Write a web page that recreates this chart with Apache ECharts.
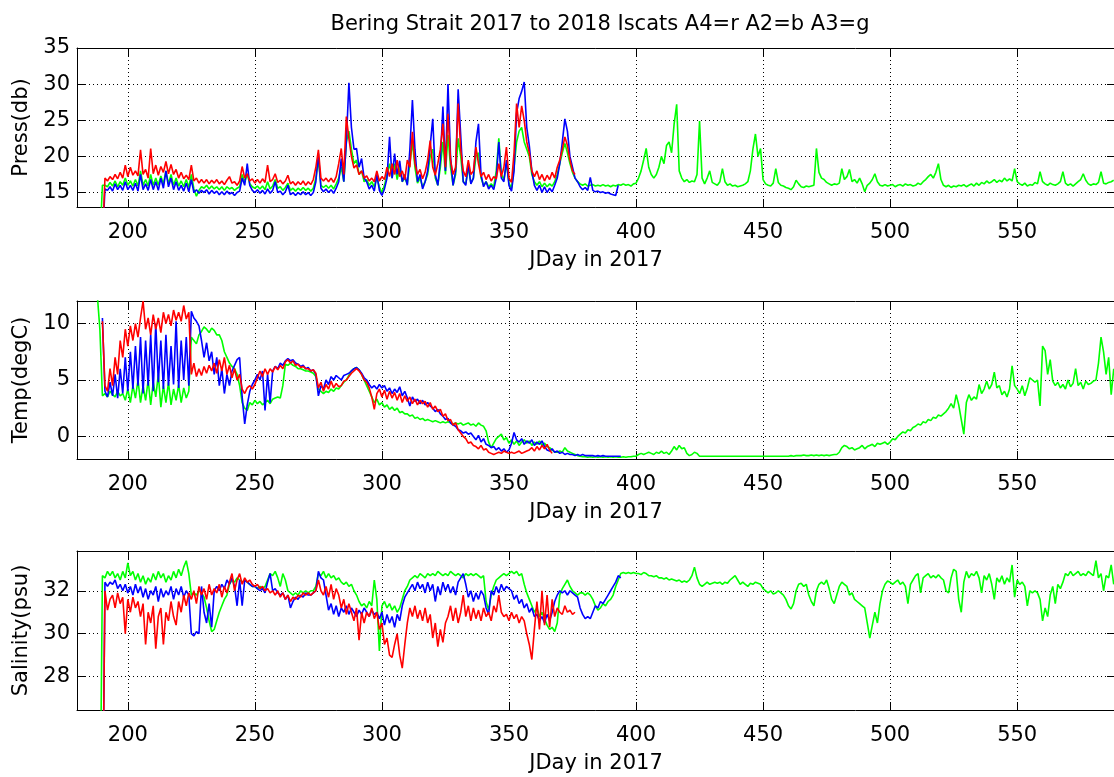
<!DOCTYPE html>
<html><head><meta charset="utf-8">
<script src="https://cdn.jsdelivr.net/npm/echarts@6/dist/echarts.min.js"></script>
<style>html,body{margin:0;padding:0;background:#fff}#c{width:1114px;height:777px}</style>
</head><body><div id="c"></div>
<script>
// ---------------- DATA (one value per day; first day given by *Start) ----------------
const titleText = 'Bering Strait 2017 to 2018 Iscats A4=r A2=b A3=g';
const xName = 'JDay in 2017';
const xTicks = [200, 250, 300, 350, 400, 450, 500, 550];
const pressTicks = [15, 20, 25, 30, 35];
const tempTicks = [0, 5, 10];
const salTicks = [28, 30, 32];

// Pressure (db)
const pressA4Start = 190; // red
const pressA4 = [
 8,17.0,16.6,17.2,16.8,17.5,16.9,17.8,17.0,18.8,
 17.2,18.5,17.4,18.0,17.3,20.9,17.5,18.2,17.0,21.1,
 17.6,18.8,17.4,18.6,17.8,19.3,17.6,18.9,17.5,18.2,
 17.0,17.8,16.9,17.4,16.8,18.8,16.6,17.0,16.3,16.8,
 16.3,16.8,16.2,16.7,16.3,16.8,16.2,16.6,16.1,16.7,
 17.2,16.3,16.5,16.0,16.6,18.6,17.0,17.6,16.6,16.9,
 16.3,16.8,16.3,16.9,16.4,18.8,16.5,16.8,17.6,16.4,
 16.7,16.2,16.6,17.4,16.2,16.5,16.0,16.5,16.1,16.6,
 16.0,16.5,16.1,16.8,18.5,20.9,17.0,16.6,17.0,16.5,
 17.0,16.4,17.2,19.0,21.1,17.5,25.5,22.5,20.0,18.4,
 18.8,17.5,18.0,17.0,17.3,16.6,17.0,16.5,18.0,16.6,
 17.2,16.8,18.5,17.2,19.0,17.5,19.5,17.2,18.0,16.8,
 19.5,18.5,23.4,19.0,17.5,18.2,16.9,17.8,19.5,22.2,
 18.5,17.4,19.0,21.0,24.5,18.5,25.9,19.5,17.5,18.5,
 27.3,21.0,18.0,17.2,19.5,17.5,18.0,21.3,19.0,17.2,
 17.8,16.8,17.5,16.6,17.2,16.9,19.0,17.2,18.5,21.3,
 17.0,16.4,20.5,27.3,24.0,27.0,25.0,22.0,20.5,18.0,
 17.2,18.0,16.8,17.5,16.6,17.4,16.8,17.8,17.0,18.5,
 19.5,21.0,22.7,21.5,19.5,18.0,17.5
];
const pressA2Start = 190; // blue
const pressA2 = [
 8,15.5,15.3,15.8,15.2,16.2,15.4,16.0,15.3,16.5,
 15.4,16.0,15.3,16.3,15.2,17.5,15.4,16.2,15.3,16.8,
 15.4,16.5,15.3,17.0,15.6,18.0,15.8,17.0,15.4,16.5,
 15.3,16.0,15.2,16.3,15.1,16.8,15.0,15.4,14.9,15.3,
 15.0,15.4,14.8,15.3,14.9,15.2,14.7,15.1,14.7,15.2,
 14.8,15.0,14.6,15.0,15.2,17.0,16.0,19.0,16.0,15.3,
 15.0,15.4,14.9,15.3,14.8,15.5,14.9,15.3,16.5,15.0,
 15.2,14.7,15.1,16.0,14.7,15.0,14.6,15.0,14.7,15.1,
 14.7,15.0,14.6,15.0,16.5,20.4,15.6,15.1,15.5,15.0,
 15.4,14.9,15.6,16.5,19.7,16.5,22.0,30.2,24.0,21.0,
 21.1,18.5,19.7,17.0,16.5,15.5,16.0,15.2,17.5,15.3,
 14.6,15.5,17.0,22.7,17.0,20.4,17.5,19.4,16.5,17.5,
 16.0,21.0,27.8,21.0,16.5,17.5,15.5,16.5,18.0,21.5,
 25.2,17.5,16.0,19.5,26.9,18.0,30.0,20.0,16.0,18.0,
 29.3,23.0,16.5,16.0,19.0,16.2,17.0,22.0,24.5,17.5,
 15.8,16.5,15.5,16.0,15.4,17.0,22.0,17.0,16.5,19.5,
 16.0,15.2,18.0,26.0,28.0,29.0,30.3,24.0,21.5,18.0,
 16.0,15.3,16.0,15.0,15.8,15.0,15.6,15.1,16.0,17.0,
 19.0,22.0,25.2,23.5,20.0,18.5,17.0,16.5,15.8,15.4,
 15.7,15.3,17.1,15.3,15.1,15.2,15.0,15.1,14.9,15.0,
 14.8,14.7,14.6,16.0
];
const pressA3Start = 189; // green
const pressA3 = [
 8,
 16.0,16.0,15.8,16.4,15.9,16.6,15.8,16.5,16.0,17.0,
 16.0,16.6,15.9,16.8,15.9,18.0,16.0,16.8,15.9,17.5,
 16.0,17.0,16.0,17.3,16.2,18.0,16.2,17.5,16.0,17.0,
 15.9,16.6,15.8,16.8,15.7,17.5,15.5,14.5,15.3,15.8,
 15.6,16.0,15.5,15.9,15.5,15.8,15.4,15.8,15.3,15.8,
 15.5,15.7,15.3,15.6,15.8,17.5,16.5,17.5,16.2,15.8,
 15.6,15.9,15.5,15.9,15.4,16.5,15.5,15.9,16.8,15.6,
 15.8,15.3,15.7,16.3,15.3,15.6,15.2,15.6,15.3,15.7,
 15.3,15.6,15.2,15.6,17.0,19.5,16.0,15.7,16.0,15.6,
 16.0,15.5,16.2,17.0,18.5,16.5,22.0,23.5,21.0,19.0,
 19.5,17.5,18.0,16.5,16.8,16.0,16.5,15.8,17.0,15.8,
 15.0,16.0,17.5,19.0,17.0,19.0,16.8,18.5,16.5,17.0,
 16.2,19.0,22.0,18.5,16.3,17.0,15.8,16.5,17.5,20.0,
 21.0,17.0,16.0,18.5,22.0,17.5,23.0,18.5,16.0,17.5,
 22.5,20.0,16.5,16.2,18.5,16.3,17.0,20.0,20.5,17.0,
 16.0,16.5,15.8,16.2,15.8,18.0,22.5,17.5,16.8,19.0,
 16.3,15.6,18.5,22.0,23.5,24.0,22.0,21.0,20.0,17.5,
 16.5,16.0,16.5,15.8,16.3,15.8,16.2,15.9,16.5,17.5,
 19.0,20.5,21.8,20.5,19.0,17.8,17.0,16.5,16.2,16.0,
 16.2,15.9,16.0,16.1,15.9,16.0,15.9,16.1,15.9,16.0,
 15.8,16.0,15.9,16.1,16.0,16.2,16.0,16.1,15.9,16.2,
 16.3,17.0,18.0,19.5,21.1,18.5,17.5,17.0,17.5,18.5,
 20.0,19.0,21.5,22.0,20.5,24.5,27.2,18.0,17.0,16.5,
 16.8,16.4,16.6,16.5,17.5,24.9,17.0,16.2,17.0,18.0,
 16.4,16.2,16.0,16.5,18.3,16.5,16.0,16.2,15.9,16.0,
 15.8,15.9,16.0,16.2,16.5,18.0,21.0,23.1,20.0,21.1,
 16.8,16.2,16.0,15.9,16.3,18.3,16.4,16.0,15.9,15.7,
 15.6,15.4,15.8,16.7,16.2,15.8,15.7,15.9,15.8,15.9,
 16.0,21.1,17.8,17.0,16.8,16.4,16.2,16.0,16.2,16.1,
 16.3,18.3,16.8,17.2,18.2,16.5,16.8,16.3,17.0,16.2,
 15.1,16.0,16.3,16.8,17.6,16.5,16.0,15.9,16.1,15.9,
 16.0,16.1,15.8,16.0,16.1,15.9,16.2,16.0,16.1,15.9,
 16.0,16.3,16.1,16.5,16.8,17.2,17.5,17.0,17.8,19.0,
 16.8,16.0,15.8,16.0,15.7,15.9,15.8,16.0,15.9,16.1,
 15.8,16.0,16.2,15.9,16.3,16.0,16.4,16.2,16.6,16.3,
 16.5,16.8,16.4,16.7,16.5,17.0,16.6,16.9,16.6,18.3,
 16.5,16.2,16.0,16.3,15.9,16.1,16.0,16.4,16.2,17.9,
 16.5,16.2,16.0,16.3,16.1,16.0,16.2,16.5,17.9,16.3,
 16.0,16.2,15.9,16.2,16.5,16.8,17.6,16.7,16.2,16.0,
 16.2,16.1,16.4,17.9,16.3,16.2,16.4,16.5,16.7
];

// Temperature (degC)
const tempA4Start = 190; // red
const tempA4 = [
 10.2,4.5,4.0,6.0,4.5,7.0,5.5,8.5,7.0,9.5,
 8.0,9.8,8.5,10.0,8.8,10.5,12.0,9.5,10.5,9.0,
 10.8,9.5,10.5,9.2,11.0,10.0,10.8,9.8,11.2,10.3,
 11.0,10.2,11.6,10.4,11.0,5.5,6.5,5.3,6.0,5.4,
 6.2,5.6,6.3,5.8,6.5,5.6,6.8,5.8,7.0,5.5,
 6.3,5.2,6.0,5.0,5.5,4.2,3.8,4.3,4.5,4.2,
 4.6,5.2,5.8,5.3,6.0,5.5,6.0,5.7,6.2,5.9,
 6.3,6.0,6.6,6.8,6.5,6.7,6.3,6.4,6.1,6.2,
 6.0,6.0,5.8,5.9,5.6,4.3,4.8,4.0,4.6,4.2,
 4.9,4.3,4.7,4.4,4.5,4.9,5.0,5.3,5.6,5.8,
 6.0,5.8,5.5,5.0,4.8,4.3,3.5,2.4,3.8,4.2,
 3.5,4.1,3.3,4.0,3.4,3.9,3.2,3.8,3.0,3.6,
 3.1,3.5,2.9,3.3,2.8,3.2,2.9,3.1,2.6,3.0,
 2.4,2.7,2.2,2.4,1.8,2.0,1.4,1.5,1.0,1.2,
 0.6,0.3,0.0,-0.2,-0.6,-0.5,-0.8,-0.9,-1.1,-0.8,
 -1.2,-1.1,-1.4,-1.5,-1.6,-1.5,-1.4,-1.5,-1.3,-1.4,
 -1.5,-1.4,-1.5,-1.4,-1.3,-1.5,-1.4,-1.3,-1.2,-1.0,
 -1.3,-0.9,-1.2,-0.8,-1.1,-0.7,-1.2,-1.5
];
const tempA2Start = 190; // blue
const tempA2 = [
 10.5,4.0,3.5,4.8,3.6,5.5,3.4,6.0,3.8,7.0,
 4.0,7.5,4.2,8.0,4.5,8.8,3.8,8.5,4.5,9.0,
 4.0,10.0,4.8,8.5,4.2,9.0,4.5,8.0,4.6,10.2,
 4.3,8.5,5.0,8.8,4.5,11.1,10.5,10.2,9.8,8.5,
 7.0,8.3,6.7,7.5,5.5,7.0,4.5,6.0,3.8,5.5,
 4.5,5.8,6.3,6.8,7.0,3.5,1.1,2.8,4.0,4.6,
 5.0,5.5,5.0,5.8,2.3,5.5,3.0,5.8,6.2,6.0,
 6.5,6.3,6.7,6.9,6.7,6.8,6.5,6.4,6.2,6.3,
 6.0,6.1,5.8,5.9,5.5,3.6,4.5,4.2,5.0,4.6,
 5.3,5.0,5.4,5.2,5.0,5.4,5.5,5.6,5.8,6.0,
 6.1,5.9,5.6,5.2,5.0,4.6,4.3,4.5,4.2,4.6,
 4.3,4.5,4.0,4.3,3.8,4.2,3.9,4.4,3.6,4.0,
 3.4,2.7,3.5,3.1,3.3,2.9,3.2,2.8,3.0,2.7,
 2.5,2.2,2.4,2.0,1.8,1.5,1.6,1.2,1.0,0.9,
 0.6,0.5,0.3,0.4,0.2,0.3,0.0,-0.3,0.1,-0.5,
 -0.2,-0.7,-0.8,-1.0,-0.9,-1.2,-1.0,-1.3,-1.1,-1.4,
 -1.2,-0.6,0.35,-0.3,-0.5,-0.2,-0.7,-0.4,-0.6,-0.3,
 -0.8,-0.5,-0.7,-0.4,-0.9,-1.2,-1.3,-1.1,-1.4,-1.3,
 -1.5,-1.4,-1.6,-1.5,-1.6,-1.6,-1.7,-1.6,-1.7,-1.6,
 -1.7,-1.7,-1.7,-1.7,-1.75,-1.7,-1.75,-1.7,-1.75,-1.75,
 -1.75,-1.75,-1.75,-1.75,-1.75
];
const tempA3Start = 188; // green
const tempA3 = [
 12.5,9.5,
 3.6,3.8,3.5,4.0,3.7,3.5,4.0,3.6,3.8,3.2,
 4.2,3.0,4.5,3.4,5.0,3.0,4.5,3.2,5.0,2.8,
 4.8,3.5,5.5,2.6,4.5,3.0,4.8,2.8,4.2,3.2,
 4.6,3.0,4.3,3.4,4.0,8.8,8.5,8.2,9.0,9.3,
 9.7,9.5,9.2,9.6,9.4,9.0,9.0,8.5,7.5,7.0,
 6.5,6.2,6.0,5.5,4.5,3.0,2.5,2.3,3.0,2.8,
 3.2,2.9,3.1,2.8,3.0,3.2,2.9,3.3,3.4,3.5,
 3.4,4.5,6.4,6.3,6.5,6.3,6.2,6.0,6.0,5.9,
 5.8,5.8,5.7,5.6,5.3,4.2,4.0,3.8,4.0,3.9,
 4.2,4.0,4.3,4.2,4.5,4.8,5.0,5.4,5.8,6.0,
 6.1,5.9,5.5,5.0,4.5,4.0,3.5,3.0,3.3,2.8,
 3.0,2.6,2.8,2.4,2.6,2.3,2.5,2.1,2.2,2.0,
 2.0,1.8,1.9,1.6,1.7,1.5,1.6,1.4,1.5,1.4,
 1.3,1.4,1.3,1.2,1.3,1.2,1.3,1.2,1.1,1.2,
 1.1,1.2,1.0,1.1,1.2,1.0,1.1,0.9,1.2,1.0,
 0.9,0.5,-0.5,-1.0,-0.6,-0.2,0.0,0.2,-0.3,-0.1,
 -0.6,-0.3,-0.7,-0.4,-0.8,-0.5,-0.3,-0.6,-0.4,-0.8,
 -0.5,-0.7,-0.4,-0.8,-0.6,-0.9,-1.0,-1.2,-1.4,-1.4,
 -1.3,-1.4,-1.0,-1.3,-1.4,-1.5,-1.6,-1.7,-1.75,-1.8,
 -1.8,-1.85,-1.8,-1.85,-1.8,-1.85,-1.8,-1.85,-1.8,-1.85,
 -1.8,-1.85,-1.8,-1.85,-1.85,-1.8,-1.85,-1.8,-1.8,-1.75,
 -1.75,-1.6,-1.5,-1.6,-1.5,-1.4,-1.5,-1.6,-1.4,-1.5,
 -1.3,-1.5,-1.4,-1.6,-1.3,-0.9,-1.2,-0.8,-1.1,-1.0,
 -1.5,-1.7,-1.6,-1.4,-1.5,-1.75,-1.75,-1.75,-1.75,-1.75,
 -1.75,-1.75,-1.75,-1.75,-1.75,-1.75,-1.75,-1.75,-1.75,-1.75,
 -1.75,-1.75,-1.75,-1.75,-1.75,-1.75,-1.75,-1.75,-1.75,-1.75,
 -1.75,-1.75,-1.75,-1.75,-1.75,-1.75,-1.75,-1.75,-1.75,-1.75,
 -1.75,-1.7,-1.75,-1.7,-1.7,-1.7,-1.65,-1.7,-1.7,-1.65,
 -1.7,-1.65,-1.7,-1.65,-1.7,-1.65,-1.7,-1.65,-1.6,-1.6,
 -1.4,-1.0,-0.8,-0.9,-1.1,-1.0,-1.2,-1.1,-1.0,-0.8,
 -1.1,-0.9,-0.8,-0.7,-0.9,-0.6,-0.7,-0.6,-0.5,-0.7,
 -0.5,-0.2,-0.3,0.0,0.2,0.4,0.3,0.6,0.5,0.8,
 0.9,1.1,1.0,1.3,1.2,1.5,1.4,1.7,1.6,1.9,
 1.8,2.0,2.2,2.5,2.9,2.5,3.7,2.8,1.5,0.2,
 3.0,3.7,3.2,3.5,3.3,4.6,3.8,4.2,4.9,4.2,
 4.6,5.7,4.3,4.5,3.7,4.0,3.5,4.2,6.25,4.5,
 4.2,3.8,4.5,3.6,4.3,5.2,5.0,4.8,5.0,2.7,
 8.0,7.6,5.5,6.8,4.9,4.5,4.8,4.3,4.6,4.2,
 5.0,4.4,4.7,6.0,4.5,4.8,4.2,4.9,4.6,4.7,
 4.9,5.0,6.5,8.8,7.5,5.5,7.0,3.7,6.0
];

// Salinity (psu)
const salA4Start = 190; // red
const salA4 = [
 20,32.0,31.1,31.6,31.8,31.2,31.9,31.4,31.7,30.0,
 31.6,31.0,31.7,31.2,31.5,30.8,31.4,29.5,31.0,30.5,
 31.3,29.3,30.8,31.2,29.5,31.0,30.6,31.5,30.8,30.4,
 31.5,31.0,31.8,31.3,31.9,31.6,32.0,31.4,32.2,31.8,
 32.1,31.6,32.3,31.8,32.1,31.9,32.3,31.7,32.2,31.9,
 32.4,32.8,32.0,32.5,32.8,32.3,32.6,32.4,32.5,32.3,
 32.2,32.3,32.1,32.2,32.0,32.1,31.9,32.0,31.8,32.0,
 31.7,31.9,31.6,31.8,31.5,31.7,31.6,31.8,31.7,31.9,
 31.8,31.9,31.8,31.9,32.0,32.5,32.0,31.8,32.2,31.7,
 32.3,31.6,32.1,31.8,31.2,31.6,30.9,31.4,31.0,30.6,
 31.2,29.7,31.0,30.5,31.0,30.8,31.2,30.7,31.0,30.2,
 30.5,29.5,29.8,29.0,28.9,29.5,30.0,29.0,28.4,29.5,
 30.5,31.2,30.8,31.3,30.7,31.1,30.6,31.2,30.5,30.9,
 29.8,30.5,29.4,30.2,29.6,30.5,30.8,31.3,30.6,31.2,
 30.5,31.0,31.8,30.8,31.3,30.6,31.2,30.7,31.1,30.6,
 31.2,30.8,31.0,30.6,31.3,31.0,31.8,31.0,30.8,30.9,
 30.6,31.0,30.7,30.9,30.5,30.8,30.6,30.0,29.5,28.8,
 30.2,31.5,30.2,32.0,30.4,31.8,30.3,31.6,30.8,31.2,
 31.0,30.9,31.3,31.0,31.1,30.9,31.0
];
const salA2Start = 190; // blue
const salA2 = [
 20,32.4,32.2,32.4,32.3,32.5,32.1,32.3,32.0,32.3,
 31.9,32.2,31.8,32.3,31.9,32.2,31.7,32.1,31.6,32.0,
 31.8,32.2,31.5,32.1,31.7,32.0,31.8,32.2,31.6,32.1,
 31.8,32.2,31.7,32.0,31.8,30.0,29.9,30.1,30.0,32.2,
 31.0,30.5,31.4,30.3,32.0,32.2,32.0,32.3,32.1,32.5,
 32.3,32.6,32.2,31.3,32.5,31.3,32.5,32.4,32.3,32.2,
 32.2,32.1,32.0,32.1,31.9,32.4,32.8,32.0,32.1,31.9,
 31.8,31.9,31.6,31.8,31.2,31.5,31.7,31.6,31.8,31.7,
 31.9,31.8,31.8,31.9,32.0,32.9,32.6,32.5,31.8,31.1,
 31.4,30.9,31.3,30.8,31.2,31.0,31.3,30.9,31.2,31.0,
 30.8,31.1,30.9,31.2,31.0,30.8,31.1,30.9,31.0,30.7,
 31.0,30.4,30.9,30.5,30.8,30.3,30.9,30.6,31.3,31.7,
 31.9,32.1,32.3,32.0,32.4,32.1,32.3,31.9,32.4,32.0,
 32.3,31.5,32.2,31.8,32.4,32.0,32.3,31.9,32.2,31.8,
 32.4,32.6,32.8,32.3,31.7,32.0,31.5,31.9,31.6,32.0,
 31.8,31.2,30.9,32.0,31.8,32.2,31.9,32.3,32.0,32.2,
 32.1,32.0,31.6,31.8,31.4,31.6,31.2,31.4,31.0,31.2,
 30.8,30.9,30.6,30.8,30.5,30.9,30.6,31.0,31.5,31.8,
 32.0,31.9,32.0,31.8,32.0,31.9,31.8,31.7,31.2,30.9,
 30.7,30.8,30.7,31.0,31.3,31.2,31.5,31.4,31.6,31.8,
 32.0,32.2,32.4,32.7,32.6
];
const salA3Start = 189; // green
const salA3 = [
 20,
 32.7,32.6,32.9,32.7,32.9,32.6,32.8,32.5,32.9,32.6,
 33.3,32.7,32.9,32.5,32.8,32.4,32.7,32.3,32.6,32.4,
 32.8,32.5,32.9,32.6,32.8,32.4,32.7,32.5,32.9,32.6,
 33.0,32.7,33.1,33.4,32.8,31.8,31.9,31.8,32.0,31.9,
 31.7,31.2,30.6,30.1,30.2,30.6,31.0,31.3,31.6,31.8,
 32.3,32.5,32.4,32.6,32.5,32.4,32.5,32.4,32.3,32.2,
 32.2,32.1,32.2,32.1,32.2,32.5,32.8,32.7,32.9,32.6,
 32.2,32.8,32.5,32.0,31.9,31.8,31.9,31.8,32.0,31.9,
 32.0,31.9,32.0,32.0,32.2,32.8,32.7,32.9,32.6,32.8,
 32.6,32.7,32.5,32.6,32.4,32.3,32.4,32.2,32.3,32.0,
 31.8,31.5,31.3,31.4,31.2,31.5,31.3,32.5,31.6,29.2,
 31.3,31.5,31.2,31.4,31.1,31.3,31.0,31.2,31.6,32.0,
 32.2,32.5,32.6,32.7,32.6,32.8,32.7,32.6,32.8,32.7,
 32.8,32.7,32.9,32.8,32.7,32.8,32.7,32.9,32.8,32.7,
 32.8,32.7,32.6,32.8,32.7,32.8,32.7,32.8,32.7,32.6,
 32.7,31.5,31.1,31.8,32.2,32.5,32.6,32.7,32.8,32.7,
 32.8,32.9,32.8,32.9,32.7,32.8,32.3,31.9,31.6,31.3,
 31.0,31.2,30.8,31.0,30.7,30.4,30.2,30.3,30.1,30.5,
 31.8,32.1,32.3,32.5,32.2,32.0,31.9,31.8,31.9,31.9,
 31.8,31.9,31.8,31.6,31.3,31.1,31.2,31.4,31.3,31.5,
 31.6,31.8,32.2,32.5,32.8,32.85,32.8,32.85,32.8,32.85,
 32.8,32.8,32.75,32.85,32.8,32.7,32.7,32.65,32.7,32.6,
 32.6,32.55,32.6,32.5,32.55,32.5,32.45,32.5,32.4,32.45,
 32.4,32.5,32.7,33.1,32.6,32.3,32.2,32.3,32.4,32.3,
 32.35,32.4,32.35,32.4,32.3,32.4,32.35,32.5,32.6,32.7,
 32.5,32.3,32.4,32.3,32.2,32.35,32.3,32.4,32.35,32.3,
 32.1,32.0,31.9,32.0,31.85,31.9,32.0,31.9,31.8,31.6,
 31.3,31.15,31.4,32.0,32.3,32.35,32.2,32.3,31.8,31.5,
 31.3,32.0,32.3,32.4,32.3,32.5,32.1,31.6,31.4,31.8,
 32.2,32.4,32.3,32.2,31.8,31.9,31.6,31.5,31.4,31.3,
 31.2,30.5,29.8,30.4,31.0,30.5,31.4,32.0,32.3,32.45,
 32.4,32.3,32.4,32.5,32.3,32.4,32.2,31.4,32.3,32.5,
 32.7,32.8,31.9,32.6,32.7,32.8,32.6,32.7,32.6,32.75,
 32.6,32.5,32.0,31.9,32.6,33.0,32.9,31.6,31.0,32.4,
 32.9,32.6,32.8,32.7,32.9,32.6,31.9,32.7,32.5,32.8,
 32.3,31.6,32.6,32.4,32.7,32.3,32.6,32.4,33.2,31.7,
 32.5,32.3,32.4,32.2,31.3,32.0,31.9,32.0,31.9,31.6,
 30.6,31.2,30.8,31.8,32.2,31.4,32.3,32.1,32.4,32.8,
 32.7,32.9,32.7,32.8,32.9,32.7,32.8,32.7,32.9,32.8,
 32.7,33.4,32.6,32.8,32.0,32.7,32.6,33.2,32.3
];

// ---------------- CHART ----------------
const FONT = '"DejaVu Sans", sans-serif';
const FS = 21;
const RED = '#ff0000', BLUE = '#0000ff', GREEN = '#00ff00';
const X_MIN = 180, X_MAX = 588.5;
const LEFT = 77, WIDTH = 1038;

const panels = [
  { top: 48, height: 159, name: 'Press(db)', min: 13, max: 35, ticks: pressTicks,
    lines: [[pressA3Start, pressA3, GREEN], [pressA2Start, pressA2, BLUE], [pressA4Start, pressA4, RED]] },
  { top: 301, height: 158, name: 'Temp(degC)', min: -2, max: 12, ticks: tempTicks,
    lines: [[tempA3Start, tempA3, GREEN], [tempA2Start, tempA2, BLUE], [tempA4Start, tempA4, RED]] },
  { top: 551, height: 159, name: 'Salinity(psu)', min: 26.45, max: 33.85, ticks: salTicks,
    lines: [[salA3Start, salA3, GREEN], [salA2Start, salA2, BLUE], [salA4Start, salA4, RED]] }
];

const txt = { color: '#000', fontFamily: FONT, fontSize: FS };
const grid = [], xAxis = [], yAxis = [], series = [];
panels.forEach((p, i) => {
  grid.push({ left: LEFT, width: WIDTH, top: p.top, height: p.height, containLabel: false, outerBoundsMode: 'none' });
  const tickStyle = { color: '#000', width: 1 };
  xAxis.push({
    gridIndex: i, type: 'value', min: X_MIN, max: X_MAX, position: 'bottom',
    axisLine: { show: true, onZero: false, lineStyle: { color: '#000', width: 1 } },
    axisTick: { show: true, inside: true, length: 8, customValues: xTicks, lineStyle: tickStyle },
    axisLabel: Object.assign({ show: true, margin: 15, customValues: xTicks }, txt),
    splitLine: { show: true, lineStyle: { color: '#000', width: 1, type: [1, 3] } },
    name: xName, nameLocation: 'middle', nameGap: 43, nameTextStyle: txt
  });
  xAxis.push({
    gridIndex: i, type: 'value', min: X_MIN, max: X_MAX, position: 'top',
    axisLine: { show: true, onZero: false, lineStyle: { color: '#000', width: 1 } },
    axisTick: { show: true, inside: true, length: 8, customValues: xTicks, lineStyle: tickStyle },
    axisLabel: { show: false }, splitLine: { show: false }
  });
  yAxis.push({
    gridIndex: i, type: 'value', min: p.min, max: p.max, position: 'left',
    axisLine: { show: true, onZero: false, lineStyle: { color: '#000', width: 1 } },
    axisTick: { show: true, inside: true, length: 8, customValues: p.ticks, lineStyle: tickStyle },
    axisLabel: Object.assign({ show: true, margin: 7, customValues: p.ticks }, txt),
    splitLine: { show: true, lineStyle: { color: '#000', width: 1, type: [1, 3] } },
    name: p.name, nameLocation: 'middle', nameGap: 43, nameRotate: 90, nameTextStyle: txt
  });
  yAxis.push({
    gridIndex: i, type: 'value', min: p.min, max: p.max, position: 'right',
    axisLine: { show: true, onZero: false, lineStyle: { color: '#000', width: 1 } },
    axisTick: { show: true, inside: true, length: 8, customValues: p.ticks, lineStyle: tickStyle },
    axisLabel: { show: false }, splitLine: { show: false }
  });
  p.lines.forEach(([start, vals, color]) => {
    series.push({
      type: 'line', xAxisIndex: 2 * i, yAxisIndex: 2 * i,
      data: vals.map((v, k) => [start + k, v]),
      showSymbol: false, symbol: 'none', silent: true, clip: true,
      lineStyle: { color, width: 1.6 }, animation: false
    });
  });
});

const chart = echarts.init(document.getElementById('c'), null, { renderer: 'canvas' });
chart.setOption({
  backgroundColor: '#fff',
  animation: false,
  title: { text: titleText, left: 595, top: 9, textAlign: 'center',
           textStyle: { color: '#000', fontFamily: FONT, fontSize: FS, fontWeight: 'normal' } },
  grid, xAxis, yAxis, series
});
</script>
</body></html>
